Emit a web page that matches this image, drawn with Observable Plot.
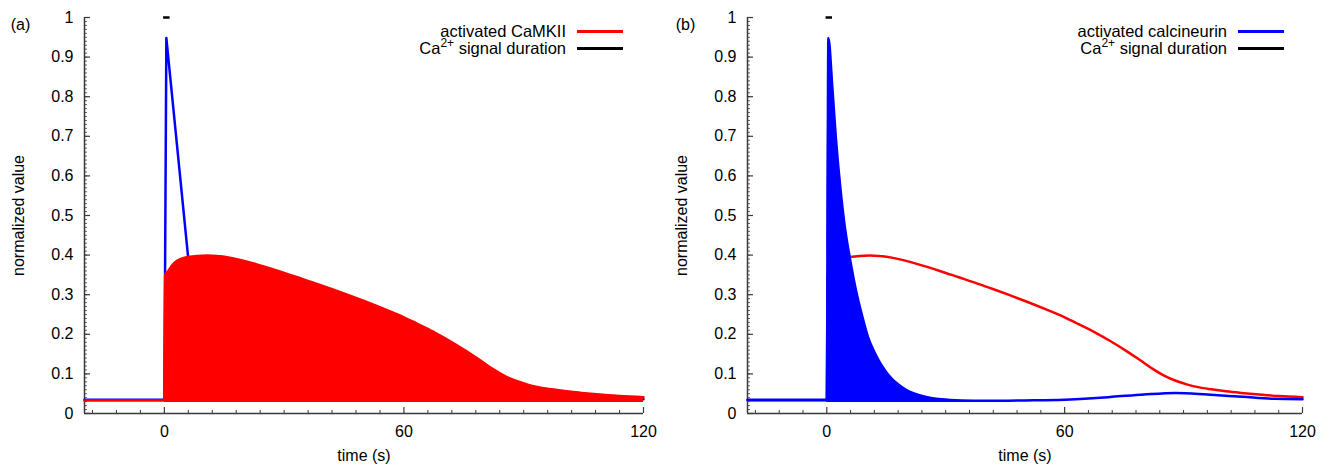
<!DOCTYPE html>
<html><head><meta charset="utf-8">
<script src="https://cdn.jsdelivr.net/npm/d3@7"></script>
<script src="https://cdn.jsdelivr.net/npm/@observablehq/plot@0.6"></script>
<style>
body{margin:0;background:#fff;font-family:"Liberation Sans",Arial,sans-serif;}
#wrap{position:relative;width:1331px;height:467px;overflow:hidden}
.panel{position:absolute;top:0;}
.leg{position:absolute;font-size:16.5px;line-height:16px;white-space:nowrap;text-align:right;color:#000}
.leg sup{font-size:12px;line-height:0;position:relative;top:-1px}
.sw{position:absolute;height:3px}
</style></head><body><div id="wrap"></div><script>
// ---- data ----
const panelLabels = ["(a)", "(b)"];
const legendNames = ["activated CaMKII", "activated calcineurin"];
const xTicks = [0, 60, 120];
const xMinorTicks = [-18, -12, -6, 6, 12, 18, 24, 30, 36, 42, 48, 54, 66, 72, 78, 84, 90, 96, 102, 108, 114];
const yTicks = [0, 0.1, 0.2, 0.3, 0.4, 0.5, 0.6, 0.7, 0.8, 0.9, 1];
const yMinorTicks = d3.range(0, 101).map(i => i / 100);
const xDomain = [-20, 120];

// activated CaMKII (normalized)
const camkTime  = [-20, 0, 0.2, 0.8, 2.5, 5.8, 10.8, 16.7, 24, 28.5, 33.3, 37.5, 41.7, 45.8, 50, 55, 60, 63.5, 67.3, 71.5, 75.7, 79, 82.3, 85.2, 88.2, 91, 94, 97, 100.7, 104.5, 109, 114, 120];
const camkValue = [0.033, 0.033, 0.35, 0.358, 0.38, 0.395, 0.399, 0.393, 0.374, 0.36, 0.344, 0.33, 0.315, 0.3, 0.284, 0.264, 0.243, 0.226, 0.207, 0.183, 0.157, 0.135, 0.112, 0.095, 0.082, 0.073, 0.066, 0.061, 0.056, 0.052, 0.048, 0.044, 0.041];

// activated calcineurin (normalized), fine output (panel b)
const canTime  = [-20, 0, 0.4, 1.4, 2.3, 3.4, 4.5, 5.9, 7.7, 9.2, 10.5, 12, 13.6, 15.5, 17.8, 20, 22, 25, 29, 34, 40, 50, 60, 66, 72, 80, 88, 96, 105, 113, 120];
const canValue = [0.035, 0.035, 0.948, 0.824, 0.695, 0.572, 0.475, 0.388, 0.296, 0.236, 0.19, 0.155, 0.125, 0.098, 0.075, 0.06, 0.051, 0.042, 0.036, 0.033, 0.032, 0.033, 0.035, 0.038, 0.042, 0.048, 0.052, 0.048, 0.042, 0.037, 0.036];

// activated calcineurin, coarse output (panel a)
const canCoarseTime  = [-20, 0, 0.5, 6, 10.5, 17.8, 25, 34, 40, 50, 60, 72, 80, 88, 96, 105, 113, 120];
const canCoarseValue = [0.035, 0.035, 0.948, 0.39, 0.19, 0.075, 0.042, 0.033, 0.032, 0.033, 0.035, 0.042, 0.048, 0.052, 0.048, 0.042, 0.037, 0.036];

// Ca2+ signal duration bar
const signalTime = [0, 1];
const signalLevel = 1;

// lower edge of the filled regions, and end of the calcineurin fill
const fillBase = 0.028;
const canFillEnd = 40;

const toRows = (ts, vs) => ts.map((t, i) => ({t, v: vs[i]}));
const camk = toRows(camkTime, camkValue);
const can = toRows(canTime, canValue);
const canCoarse = toRows(canCoarseTime, canCoarseValue);
const signal = signalTime.map(t => ({t, v: signalLevel}));

const RED = "#ff0000", BLUE = "#0000ff", AXIS = "#3a3a3a";
const H = 467, MT = 17, MB = 54;

function axes(width, ml, mr, label) {
  const pw = width - ml - mr, ph = H - MT - MB;
  const kx = (xDomain[1] - xDomain[0]) / pw; // data per px along x
  const ky = 1 / ph;                        // data per px along y
  return [
    Plot.ruleY([0], {stroke: AXIS, strokeWidth: 1.5}),
    Plot.ruleX([xDomain[0]], {stroke: AXIS, strokeWidth: 1.5}),
    Plot.ruleX(xMinorTicks, {x: d => d, y1: 0, y2: 3 * ky, stroke: AXIS, strokeWidth: 1}),
    Plot.ruleX(xTicks, {x: d => d, y1: 0, y2: 6 * ky, stroke: AXIS, strokeWidth: 1.2}),
    Plot.ruleY(yMinorTicks, {y: d => d, x1: xDomain[0], x2: xDomain[0] + 3 * kx, stroke: AXIS, strokeWidth: 0.8}),
    Plot.ruleY(yTicks, {y: d => d, x1: xDomain[0], x2: xDomain[0] + 6 * kx, stroke: AXIS, strokeWidth: 1.2}),
    Plot.axisX({ticks: xTicks, tickSize: 0, tickPadding: 12, tickFormat: d => String(d), label: null, fill: "#000"}),
    Plot.axisY({ticks: yTicks, tickSize: 0, tickPadding: 11, tickFormat: d => String(+d.toFixed(1)), label: null, fill: "#000"}),
    Plot.text(["time (s)"], {frameAnchor: "bottom", dy: 47, fill: "#000"}),
    Plot.text(["normalized value"], {frameAnchor: "left", rotate: -90, dx: -66, textAnchor: "middle", fill: "#000"}),
    Plot.text([label], {frameAnchor: "top-left", dx: -ml + 20, dy: 1, textAnchor: "middle", fill: "#000"})
  ];
}

function makePanel(width, ml, mr, label, dataMarks) {
  return Plot.plot({
    width, height: H,
    marginLeft: ml, marginRight: mr, marginTop: MT, marginBottom: MB,
    x: {domain: xDomain},
    y: {domain: [0, 1]},
    style: {fontSize: "16px", fontFamily: "'Liberation Sans', Arial, sans-serif", overflow: "visible", background: "transparent"},
    marks: [...axes(width, ml, mr, label), ...dataMarks,
      Plot.line(signal, {x: "t", y: "v", stroke: "#000", strokeWidth: 2.5, strokeLinecap: "square"})]
  });
}

const panelA = makePanel(665, 84, 22, panelLabels[0], [
  Plot.line(canCoarse, {x: "t", y: "v", stroke: BLUE, strokeWidth: 2.5}),
  Plot.areaY(camk.filter(d => d.t >= 0), {x: "t", y1: fillBase, y2: "v", fill: RED, curve: "monotone-x"}),
  Plot.line(camk, {x: "t", y: "v", stroke: RED, strokeWidth: 2.5, curve: "monotone-x"})
]);
const panelB = makePanel(666, 82, 29, panelLabels[1], [
  Plot.line(camk, {x: "t", y: "v", stroke: RED, strokeWidth: 2.5, curve: "monotone-x"}),
  Plot.areaY(can.filter(d => d.t >= 0 && d.t <= canFillEnd), {x: "t", y1: fillBase, y2: "v", fill: BLUE, curve: "monotone-x"}),
  Plot.line(can, {x: "t", y: "v", stroke: BLUE, strokeWidth: 2.5, curve: "monotone-x"})
]);

const wrap = document.getElementById("wrap");
panelA.classList.add("panel"); panelA.style.left = "0px";
panelB.classList.add("panel"); panelB.style.left = "665px";
wrap.appendChild(panelA); wrap.appendChild(panelB);

function legend(textRight, swLeft, name, color) {
  const rows = [
    {html: name, color, y: 31},
    {html: "Ca<sup>2+</sup> signal duration", color: "#000", y: 48}
  ];
  for (const r of rows) {
    const t = document.createElement("div");
    t.className = "leg";
    t.style.right = (1331 - textRight) + "px";
    t.style.top = (r.y - 8) + "px";
    t.innerHTML = r.html;
    wrap.appendChild(t);
    const s = document.createElement("div");
    s.className = "sw";
    s.style.left = swLeft + "px";
    s.style.top = (r.y - 1.5) + "px";
    s.style.width = "46px";
    s.style.background = r.color;
    wrap.appendChild(s);
  }
}
legend(566, 577, legendNames[0], RED);
legend(1227, 1238, legendNames[1], BLUE);
</script></body></html>
